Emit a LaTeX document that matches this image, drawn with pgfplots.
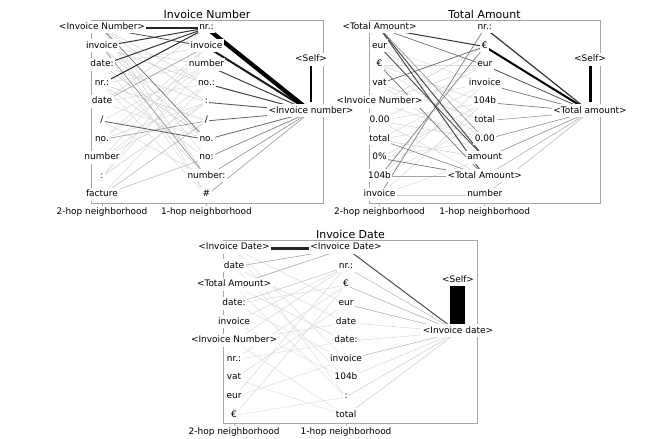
\documentclass[border=0pt]{standalone}
\usepackage{fontspec}
\setmainfont{DejaVu Sans}
\usepackage{pgfplots}
\pgfplotsset{compat=1.18}
\tikzset{lab/.style={fill=white, inner sep=1.5bp, text height=0.75em, text depth=0.25em, font=\fontsize{9}{10}\selectfont, text=black, yshift=1bp}}
\pgfplotsset{
  e/.style 2 args={draw=black!#1, line width=#2bp, no markers, line cap=butt, forget plot},
  panel/.style={scale only axis, clip=false, anchor=south west,
    axis line style={black!35, line width=0.8bp},
    xtick={0,1}, xticklabels={2-hop neighborhood,1-hop neighborhood},
    ytick=\empty, major tick length=3bp, tick align=outside, xtick pos=bottom,
    tick style={black!30, line width=0.8bp},
    xticklabel style={font=\fontsize{9}{10}\selectfont, anchor=base, yshift=-8.5bp, inner sep=0pt},
    title style={font=\fontsize{11}{13}\selectfont, anchor=base, at={(0.5,1)}, yshift=-4bp, inner sep=0pt},
    ymin=-0.414, ymax=9.43, height=183bp},
}
\begin{document}
\begin{tikzpicture}
\useasboundingbox (0,0) rectangle (657bp,439bp);
% ================= Panel 1 =================
\begin{axis}[panel, at={(91bp,236bp)}, width=232bp, xmin=-0.105, xmax=2.115, title={Invoice Number}]
% light 2-hop -> 1-hop
\addplot[e={18}{0.5}] coordinates {(0,9) (1,6)};
\addplot[e={20}{0.5}] coordinates {(0,9) (1,5)};
\addplot[e={15}{0.5}] coordinates {(0,9) (1,2)};
\addplot[e={20}{0.5}] coordinates {(0,9) (1,1)};
\addplot[e={15}{0.5}] coordinates {(0,9) (1,0)};
\addplot[e={18}{0.5}] coordinates {(0,8) (1,7)};
\addplot[e={20}{0.5}] coordinates {(0,8) (1,6)};
\addplot[e={18}{0.5}] coordinates {(0,8) (1,3)};
\addplot[e={15}{0.5}] coordinates {(0,8) (1,0)};
\addplot[e={15}{0.5}] coordinates {(0,7) (1,8)};
\addplot[e={18}{0.5}] coordinates {(0,7) (1,5)};
\addplot[e={22}{0.5}] coordinates {(0,7) (1,3)};
\addplot[e={15}{0.5}] coordinates {(0,7) (1,1)};
\addplot[e={15}{0.5}] coordinates {(0,6) (1,7)};
\addplot[e={20}{0.5}] coordinates {(0,6) (1,4)};
\addplot[e={18}{0.5}] coordinates {(0,6) (1,2)};
\addplot[e={15}{0.5}] coordinates {(0,6) (1,0)};
\addplot[e={18}{0.5}] coordinates {(0,5) (1,9)};
\addplot[e={15}{0.5}] coordinates {(0,5) (1,6)};
\addplot[e={15}{0.5}] coordinates {(0,5) (1,3)};
\addplot[e={15}{0.5}] coordinates {(0,4) (1,7)};
\addplot[e={15}{0.5}] coordinates {(0,4) (1,1)};
\addplot[e={18}{0.5}] coordinates {(0,3) (1,5)};
\addplot[e={15}{0.5}] coordinates {(0,3) (1,7)};
\addplot[e={15}{0.5}] coordinates {(0,3) (1,8)};
\addplot[e={18}{0.5}] coordinates {(0,2) (1,5)};
\addplot[e={15}{0.5}] coordinates {(0,2) (1,6)};
\addplot[e={15}{0.5}] coordinates {(0,2) (1,8)};
\addplot[e={20}{0.5}] coordinates {(0,1) (1,5)};
\addplot[e={15}{0.5}] coordinates {(0,1) (1,7)};
\addplot[e={15}{0.5}] coordinates {(0,1) (1,8)};
\addplot[e={15}{0.5}] coordinates {(0,0) (1,6)};
\addplot[e={30}{0.5}] coordinates {(0,0) (1,2)};
\addplot[e={30}{0.5}] coordinates {(0,0) (1,4)};
% medium / dark 2-hop -> 1-hop
\addplot[e={40}{0.6}] coordinates {(0,5) (1,8)};
\addplot[e={40}{0.6}] coordinates {(0,3) (1,4)};
\addplot[e={45}{0.6}] coordinates {(0,8) (1,1)};
\addplot[e={55}{0.7}] coordinates {(0,9) (1,3)};
\addplot[e={65}{0.8}] coordinates {(0,4) (1,3)};
\addplot[e={70}{0.8}] coordinates {(0,9) (1,8)};
\addplot[e={80}{1.0}] coordinates {(0,8) (1,9)};
\addplot[e={80}{1.0}] coordinates {(0,7) (1,9)};
\addplot[e={85}{1.0}] coordinates {(0,6) (1,9)};
\addplot[e={85}{1.5}] coordinates {(0,9) (1,9)};
% 1-hop -> target
\addplot[e={40}{0.6}] coordinates {(1,0) (2,4.5)};
\addplot[e={45}{0.6}] coordinates {(1,1) (2,4.5)};
\addplot[e={50}{0.7}] coordinates {(1,2) (2,4.5)};
\addplot[e={60}{0.8}] coordinates {(1,3) (2,4.5)};
\addplot[e={60}{0.8}] coordinates {(1,4) (2,4.5)};
\addplot[e={65}{0.9}] coordinates {(1,5) (2,4.5)};
\addplot[e={75}{1.0}] coordinates {(1,6) (2,4.5)};
\addplot[e={75}{1.0}] coordinates {(1,7) (2,4.5)};
\addplot[e={90}{2.0}] coordinates {(1,8) (2,4.5)};
\addplot[e={100}{4.2}] coordinates {(1,9) (2,4.5)};
% self
\addplot[e={100}{1.3}] coordinates {(2,7.01) (2,5.02)};
% labels
\node[lab] at (axis cs:0,9) {<Invoice Number>};
\node[lab] at (axis cs:0,8) {invoice};
\node[lab] at (axis cs:0,7) {date:};
\node[lab] at (axis cs:0,6) {nr.:};
\node[lab] at (axis cs:0,5) {date};
\node[lab] at (axis cs:0,4) {/};
\node[lab] at (axis cs:0,3) {no.};
\node[lab] at (axis cs:0,2) {number};
\node[lab] at (axis cs:0,1) {:};
\node[lab] at (axis cs:0,0) {facture};
\node[lab] at (axis cs:1,9) {nr.:};
\node[lab] at (axis cs:1,8) {invoice};
\node[lab] at (axis cs:1,7) {number};
\node[lab] at (axis cs:1,6) {no.:};
\node[lab] at (axis cs:1,5) {:};
\node[lab] at (axis cs:1,4) {/};
\node[lab] at (axis cs:1,3) {no.};
\node[lab] at (axis cs:1,2) {no:};
\node[lab] at (axis cs:1,1) {number:};
\node[lab] at (axis cs:1,0) {\#};
\node[lab] at (axis cs:2,4.5) {<Invoice number>};
\node[lab] at (axis cs:2,7.27) {<Self>};
\end{axis}
% ================= Panel 2 =================
\begin{axis}[panel, at={(369bp,236bp)}, width=231bp, xmin=-0.1, xmax=2.095, title={Total Amount}]
% light
\addplot[e={15}{0.5}] coordinates {(0,8) (1,6)};
\addplot[e={18}{0.5}] coordinates {(0,8) (1,4)};
\addplot[e={15}{0.5}] coordinates {(0,7) (1,7)};
\addplot[e={18}{0.5}] coordinates {(0,7) (1,5)};
\addplot[e={15}{0.5}] coordinates {(0,7) (1,3)};
\addplot[e={20}{0.5}] coordinates {(0,6) (1,4)};
\addplot[e={15}{0.5}] coordinates {(0,6) (1,2)};
\addplot[e={20}{0.5}] coordinates {(0,5) (1,8)};
\addplot[e={18}{0.5}] coordinates {(0,5) (1,7)};
\addplot[e={15}{0.5}] coordinates {(0,5) (1,6)};
\addplot[e={15}{0.5}] coordinates {(0,5) (1,3)};
\addplot[e={18}{0.5}] coordinates {(0,4) (1,7)};
\addplot[e={15}{0.5}] coordinates {(0,4) (1,5)};
\addplot[e={15}{0.5}] coordinates {(0,4) (1,1)};
\addplot[e={20}{0.5}] coordinates {(0,4) (1,3)};
\addplot[e={15}{0.5}] coordinates {(0,3) (1,6)};
\addplot[e={15}{0.5}] coordinates {(0,3) (1,4)};
\addplot[e={20}{0.5}] coordinates {(0,3) (1,2)};
\addplot[e={15}{0.5}] coordinates {(0,2) (1,5)};
\addplot[e={15}{0.5}] coordinates {(0,2) (1,3)};
\addplot[e={15}{0.5}] coordinates {(0,1) (1,4)};
\addplot[e={15}{0.5}] coordinates {(0,1) (1,6)};
\addplot[e={15}{0.5}] coordinates {(0,0) (1,2)};
\addplot[e={15}{0.5}] coordinates {(0,0) (1,5)};
\addplot[e={20}{0.6}] coordinates {(0,0) (1,0)};
% medium / dark
\addplot[e={35}{0.9}] coordinates {(0,1) (1,1)};
\addplot[e={45}{0.6}] coordinates {(0,9) (1,3)};
\addplot[e={50}{0.6}] coordinates {(0,3) (1,1)};
\addplot[e={55}{0.7}] coordinates {(0,2) (1,1)};
\addplot[e={50}{0.7}] coordinates {(0,1) (1,8)};
\addplot[e={50}{0.7}] coordinates {(0,0) (1,9)};
\addplot[e={60}{0.7}] coordinates {(0,6) (1,8)};
\addplot[e={55}{0.7}] coordinates {(0,7) (1,1)};
\addplot[e={55}{0.7}] coordinates {(0,9) (1,7)};
\addplot[e={70}{0.9}] coordinates {(0,8) (1,2)};
\addplot[e={70}{1.0}] coordinates {(0,9) (1,2)};
\addplot[e={70}{1.0}] coordinates {(0,9) (1,1)};
\addplot[e={80}{1.0}] coordinates {(0,9) (1,8)};
% 1-hop -> target
\addplot[e={30}{0.5}] coordinates {(1,0) (2,4.5)};
\addplot[e={35}{0.5}] coordinates {(1,1) (2,4.5)};
\addplot[e={45}{0.6}] coordinates {(1,2) (2,4.5)};
\addplot[e={45}{0.6}] coordinates {(1,3) (2,4.5)};
\addplot[e={40}{0.6}] coordinates {(1,4) (2,4.5)};
\addplot[e={50}{0.7}] coordinates {(1,5) (2,4.5)};
\addplot[e={55}{0.7}] coordinates {(1,6) (2,4.5)};
\addplot[e={70}{0.8}] coordinates {(1,7) (2,4.5)};
\addplot[e={80}{1.2}] coordinates {(1,9) (2,4.5)};
\addplot[e={100}{2.0}] coordinates {(1,8) (2,4.5)};
% self
\addplot[e={100}{3.0}] coordinates {(2,7.01) (2,5.02)};
% labels
\node[lab] at (axis cs:0,9) {<Total Amount>};
\node[lab] at (axis cs:0,8) {eur};
\node[lab] at (axis cs:0,7) {€};
\node[lab] at (axis cs:0,6) {vat};
\node[lab] at (axis cs:0,5) {<Invoice Number>};
\node[lab] at (axis cs:0,4) {0.00};
\node[lab] at (axis cs:0,3) {total};
\node[lab] at (axis cs:0,2) {0\%};
\node[lab] at (axis cs:0,1) {104b};
\node[lab] at (axis cs:0,0) {invoice};
\node[lab] at (axis cs:1,9) {nr.:};
\node[lab] at (axis cs:1,8) {€};
\node[lab] at (axis cs:1,7) {eur};
\node[lab] at (axis cs:1,6) {invoice};
\node[lab] at (axis cs:1,5) {104b};
\node[lab] at (axis cs:1,4) {total};
\node[lab] at (axis cs:1,3) {0.00};
\node[lab] at (axis cs:1,2) {amount};
\node[lab] at (axis cs:1,1) {<Total Amount>};
\node[lab] at (axis cs:1,0) {number};
\node[lab] at (axis cs:2,4.5) {<Total amount>};
\node[lab] at (axis cs:2,7.27) {<Self>};
\end{axis}
% ================= Panel 3 =================
\begin{axis}[panel, at={(223.3bp,15.7bp)}, width=254.4bp, xmin=-0.096, xmax=2.176, title={Invoice Date}]
% light
\addplot[e={15}{0.5}] coordinates {(0,9) (1,6)};
\addplot[e={12}{0.5}] coordinates {(0,9) (1,3)};
\addplot[e={12}{0.5}] coordinates {(0,9) (1,1)};
\addplot[e={15}{0.5}] coordinates {(0,8) (1,5)};
\addplot[e={12}{0.5}] coordinates {(0,8) (1,2)};
\addplot[e={15}{0.5}] coordinates {(0,7) (1,4)};
\addplot[e={12}{0.5}] coordinates {(0,7) (1,1)};
\addplot[e={15}{0.5}] coordinates {(0,6) (1,7)};
\addplot[e={12}{0.5}] coordinates {(0,6) (1,3)};
\addplot[e={15}{0.5}] coordinates {(0,5) (1,8)};
\addplot[e={12}{0.5}] coordinates {(0,5) (1,2)};
\addplot[e={15}{0.5}] coordinates {(0,4) (1,8)};
\addplot[e={15}{0.5}] coordinates {(0,4) (1,5)};
\addplot[e={12}{0.5}] coordinates {(0,4) (1,0)};
\addplot[e={15}{0.5}] coordinates {(0,3) (1,7)};
\addplot[e={12}{0.5}] coordinates {(0,3) (1,4)};
\addplot[e={15}{0.5}] coordinates {(0,2) (1,6)};
\addplot[e={12}{0.5}] coordinates {(0,2) (1,0)};
\addplot[e={15}{0.5}] coordinates {(0,1) (1,8)};
\addplot[e={12}{0.5}] coordinates {(0,1) (1,3)};
\addplot[e={15}{0.5}] coordinates {(0,0) (1,7)};
\addplot[e={12}{0.5}] coordinates {(0,0) (1,1)};
% medium / dark
\addplot[e={25}{0.5}] coordinates {(0,6) (1,8)};
\addplot[e={35}{0.6}] coordinates {(0,8) (1,9)};
\addplot[e={35}{0.6}] coordinates {(0,7) (1,9)};
\addplot[e={85}{2.5}] coordinates {(0,9) (1,9)};
% 1-hop -> target
\addplot[e={20}{0.5}] coordinates {(1,0) (2,4.5)};
\addplot[e={20}{0.5}] coordinates {(1,1) (2,4.5)};
\addplot[e={15}{0.5}] coordinates {(1,2) (2,4.5)};
\addplot[e={25}{0.6}] coordinates {(1,3) (2,4.5)};
\addplot[e={30}{0.6}, densely dotted] coordinates {(1,4) (2,4.5)};
\addplot[e={30}{0.6}, densely dotted] coordinates {(1,5) (2,4.5)};
\addplot[e={30}{0.6}] coordinates {(1,6) (2,4.5)};
\addplot[e={30}{0.6}] coordinates {(1,7) (2,4.5)};
\addplot[e={25}{0.6}] coordinates {(1,8) (2,4.5)};
\addplot[e={70}{1.0}] coordinates {(1,9) (2,4.5)};
% self
\addplot[e={100}{15}] coordinates {(2,7.0) (2,4.93)};
% labels
\node[lab] at (axis cs:0,9) {<Invoice Date>};
\node[lab] at (axis cs:0,8) {date};
\node[lab] at (axis cs:0,7) {<Total Amount>};
\node[lab] at (axis cs:0,6) {date:};
\node[lab] at (axis cs:0,5) {invoice};
\node[lab] at (axis cs:0,4) {<Invoice Number>};
\node[lab] at (axis cs:0,3) {nr.:};
\node[lab] at (axis cs:0,2) {vat};
\node[lab] at (axis cs:0,1) {eur};
\node[lab] at (axis cs:0,0) {€};
\node[lab] at (axis cs:1,9) {<Invoice Date>};
\node[lab] at (axis cs:1,8) {nr.:};
\node[lab] at (axis cs:1,7) {€};
\node[lab] at (axis cs:1,6) {eur};
\node[lab] at (axis cs:1,5) {date};
\node[lab] at (axis cs:1,4) {date:};
\node[lab] at (axis cs:1,3) {invoice};
\node[lab] at (axis cs:1,2) {104b};
\node[lab] at (axis cs:1,1) {:};
\node[lab] at (axis cs:1,0) {total};
\node[lab] at (axis cs:2,4.5) {<Invoice date>};
\node[lab] at (axis cs:2,7.25) {<Self>};
\end{axis}
\end{tikzpicture}
\end{document}
